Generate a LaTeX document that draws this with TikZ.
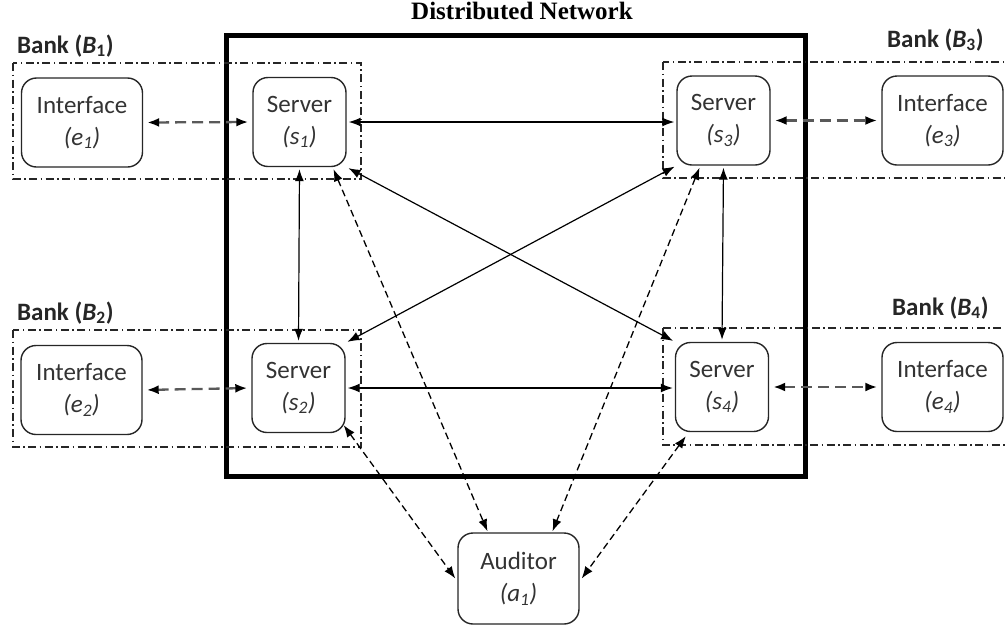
\documentclass[tikz,border=0pt]{standalone}
\usepackage{fontspec}
\setmainfont{Carlito}
\newfontfamily\titlefont{Liberation Serif}
\usetikzlibrary{arrows.meta,calc}

\begin{document}
\begin{tikzpicture}[x=1pt,y=-1pt,
  >={Latex[length=12pt,width=9pt]},
  box/.style={draw=black!85, fill=white, line width=1.4pt, rounded corners=15pt,
    minimum height=89pt, inner sep=0pt, align=center, text=black!80,
    font=\fontsize{25}{32}\selectfont},
  iface/.style={box, minimum width=121pt},
  srv/.style={box, minimum width=93pt},
  bankbox/.style={draw=black!85, line width=1.1pt,
    dash pattern=on 8pt off 3.5pt on 1.5pt off 3.5pt},
  banklabel/.style={anchor=base west, inner sep=0pt, text=black!85,
    font=\fontsize{25}{30}\selectfont\bfseries},
  link/.style={<->, line width=1.2pt, shorten <=2pt, shorten >=2pt},
  iflink/.style={{Latex[length=12pt,width=9pt,color=black]}-{Latex[length=12pt,width=9pt,color=black]},
    line width=2.3pt, draw=black!65, dash pattern=on 11pt off 6pt,
    shorten <=4pt, shorten >=4pt},
  audlink/.style={<->, line width=1.3pt, dash pattern=on 7pt off 4pt}]

\useasboundingbox (0,0) rectangle (1005,630);

% title and network frame
\node[anchor=base, inner sep=0pt, font=\titlefont\fontsize{25}{30}\selectfont\bfseries]
  (title) at (522,19) {Distributed Network};
\draw[line width=5pt] (226,35) rectangle (805,476);

% bank groups
\draw[bankbox] (13,63) rectangle (361,179);
\draw[bankbox] (663,62) rectangle (1012,178);
\draw[bankbox] (13,330) rectangle (361,447);
\draw[bankbox] (663,328) rectangle (1012,445);
\node[banklabel] (lb1) at (17,53)  {Bank (\textit{B}\textsubscript{1})};
\node[banklabel] (lb3) at (887,47) {Bank (\textit{B}\textsubscript{3})};
\node[banklabel] (lb2) at (17,320) {Bank (\textit{B}\textsubscript{2})};
\node[banklabel] (lb4) at (892,315) {Bank (\textit{B}\textsubscript{4})};

% interfaces, servers and auditor
\node[iface] (e1) at (82,122.5)  {Interface\\\textit{(e\textsubscript{1})}};
\node[srv]   (s1) at (299.5,122) {Server\\\textit{(s\textsubscript{1})}};
\node[srv]   (s3) at (723.5,120.5) {Server\\\textit{(s\textsubscript{3})}};
\node[iface] (e3) at (942.5,120.5) {Interface\\\textit{(e\textsubscript{3})}};
\node[iface] (e2) at (81.5,390)  {Interface\\\textit{(e\textsubscript{2})}};
\node[srv]   (s2) at (298.5,388) {Server\\\textit{(s\textsubscript{2})}};
\node[srv]   (s4) at (722,387)   {Server\\\textit{(s\textsubscript{4})}};
\node[iface] (e4) at (942.5,387) {Interface\\\textit{(e\textsubscript{4})}};
\node[iface, minimum height=91pt] (aud) at (518.5,578.5) {Auditor\\\textit{(a\textsubscript{1})}};

% interface <-> server
\draw[iflink] (e1.east) -- (s1.west);
\draw[iflink] (s3.east) -- (e3.west);
\draw[iflink] (e2.east) -- (s2.west);
\draw[iflink] (s4.east) -- (e4.west);

% server mesh
\draw[link] (s1.east) -- (s1.east -| s3.west);
\draw[link] (s2.east) -- (s2.east -| s4.west);
\draw[link] (s1.south) -- (s2.north);
\draw[link] (s3.south) -- (s4.north);
\draw[link] (s1.south east) -- (s4.north west);
\draw[link] (s3.south west) -- (s2.north east);

% auditor links
\draw[audlink] ([xshift=34pt,yshift=-2pt]s1.south) -- ([xshift=-31pt,yshift=1pt]aud.north);
\draw[audlink] ([xshift=-24pt,yshift=-2pt]s3.south) -- ([xshift=34pt,yshift=1pt]aud.north);
\draw[audlink] ([shift={(-2pt,8pt)}]s2.south east) -- ([xshift=-2pt]aud.west);
\draw[audlink] ([shift={(11pt,-4pt)}]s4.south west) -- ([xshift=2pt]aud.east);
\end{tikzpicture}
\end{document}
